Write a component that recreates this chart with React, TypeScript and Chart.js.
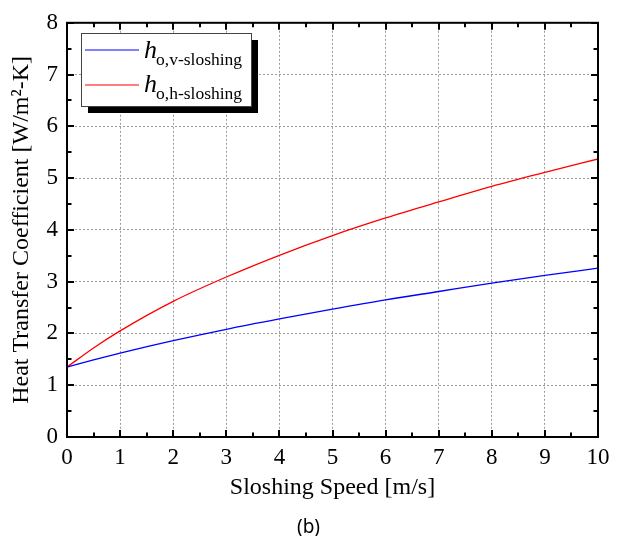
import React, { useEffect, useRef } from "react";
import { Chart, registerables } from "chart.js";

Chart.register(...registerables);

const speeds = [0, 0.5, 1, 2, 3, 4, 5, 6, 7, 8, 9, 10];
const hVertical = [1.35, 1.49, 1.62, 1.86, 2.08, 2.28, 2.47, 2.65, 2.81, 2.97, 3.12, 3.26];
const hHorizontal = [1.35, 1.72, 2.05, 2.62, 3.09, 3.51, 3.89, 4.23, 4.54, 4.84, 5.11, 5.37];
const legendSubs = ["o,v-sloshing", "o,h-sloshing"];
const seriesColors = ["#0000ff", "#ff0000"];
const xTitle = "Sloshing Speed [m/s]";
const yTitle = "Heat Transfer Coefficient [W/m\u00B2-K]";
const caption = "(b)";

const SERIF = "'Liberation Serif', 'Times New Roman', serif";

const framePlugin = {
  id: "frameTicks",
  afterDatasetsDraw(chart: any) {
    const { ctx, chartArea, scales } = chart;
    const { left, right, top, bottom } = chartArea;
    const xs = scales.x;
    const ys = scales.y;
    ctx.save();
    ctx.strokeStyle = "#000";
    ctx.lineWidth = 2;
    ctx.beginPath();
    for (let v = 0; v <= 10; v += 0.5) {
      const px = Math.round(xs.getPixelForValue(v));
      const len = Number.isInteger(v) ? 7 : 4.5;
      ctx.moveTo(px, bottom);
      ctx.lineTo(px, bottom - len);
      ctx.moveTo(px, top);
      ctx.lineTo(px, top + len);
    }
    for (let v = 0; v <= 8; v += 0.5) {
      const py = Math.round(ys.getPixelForValue(v));
      const len = Number.isInteger(v) ? 7 : 4.5;
      ctx.moveTo(left, py);
      ctx.lineTo(left + len, py);
      ctx.moveTo(right, py);
      ctx.lineTo(right - len, py);
    }
    ctx.stroke();
    ctx.strokeRect(left, top, right - left, bottom - top);

    // legend
    const bx = 81.5, by = 33.5, bw = 170, bh = 73;
    ctx.fillStyle = "#000";
    ctx.fillRect(bx + 6.5, by + 6.5, bw, bh);
    ctx.fillStyle = "#fff";
    ctx.fillRect(bx, by, bw, bh);
    ctx.lineWidth = 1;
    ctx.strokeStyle = "#444";
    ctx.strokeRect(bx, by, bw, bh);

    const rows = [
      { ly: 50, hb: 58, sb: 64.5 },
      { ly: 85, hb: 92, sb: 99 },
    ];
    rows.forEach((r, i) => {
      ctx.strokeStyle = seriesColors[i];
      ctx.lineWidth = 1.2;
      ctx.beginPath();
      ctx.moveTo(85, r.ly);
      ctx.lineTo(139, r.ly);
      ctx.stroke();
      ctx.fillStyle = "#000";
      ctx.textAlign = "left";
      ctx.textBaseline = "alphabetic";
      ctx.font = `italic 26px ${SERIF}`;
      ctx.fillText("h", 144, r.hb);
      ctx.font = `17.5px ${SERIF}`;
      ctx.fillText(legendSubs[i], 156, r.sb);
    });

    // caption
    ctx.fillStyle = "#000";
    ctx.font = "19px 'Noto Sans', sans-serif";
    ctx.textAlign = "center";
    ctx.textBaseline = "alphabetic";
    ctx.fillText(caption, 308.5, 533);
    ctx.restore();
  },
};

export default function App() {
  const ref = useRef<HTMLCanvasElement | null>(null);
  useEffect(() => {
    if (!ref.current) return;
    const chart = new Chart(ref.current, {
      type: "line",
      data: {
        datasets: [
          {
            label: "h o,v-sloshing",
            data: speeds.map((s, i) => ({ x: s, y: hVertical[i] })),
            borderColor: seriesColors[0],
            borderWidth: 1.3,
            pointRadius: 0,
            cubicInterpolationMode: "monotone",
          },
          {
            label: "h o,h-sloshing",
            data: speeds.map((s, i) => ({ x: s, y: hHorizontal[i] })),
            borderColor: seriesColors[1],
            borderWidth: 1.3,
            pointRadius: 0,
            cubicInterpolationMode: "monotone",
          },
        ],
      },
      options: {
        animation: false,
        responsive: true,
        maintainAspectRatio: false,
        layout: { padding: { left: 0, top: 18, right: 25, bottom: 0 } },
        plugins: { legend: { display: false }, tooltip: { enabled: false } },
        scales: {
          x: {
            type: "linear",
            min: 0,
            max: 10,
            ticks: {
              stepSize: 1,
              color: "#000",
              padding: 7,
              font: { family: SERIF, size: 23 },
            },
            grid: { color: "#9a9a9a", lineWidth: 1, drawTicks: false },
            border: { display: false, dash: [2, 2] },
            title: {
              display: true,
              text: xTitle,
              color: "#000",
              font: { family: SERIF, size: 24 },
              padding: { top: 0, bottom: 33.5 },
            },
            afterFit: (s: any) => {
              s.height = 99;
            },
          },
          y: {
            min: 0,
            max: 8,
            ticks: {
              stepSize: 1,
              color: "#000",
              padding: 9,
              font: { family: SERIF, size: 23 },
            },
            grid: { color: "#9a9a9a", lineWidth: 1, drawTicks: false },
            border: { display: false, dash: [2, 2] },
            title: {
              display: true,
              text: yTitle,
              color: "#000",
              font: { family: SERIF, size: 24 },
              padding: { top: 7.5, bottom: 0 },
            },
            afterFit: (s: any) => {
              s.width = 67;
            },
          },
        },
      },
      plugins: [framePlugin],
    } as any);
    return () => chart.destroy();
  }, []);
  return (
    <div style={{ position: "absolute", left: 0, top: 0, width: 623, height: 536, background: "#fff" }}>
      <canvas ref={ref} />
    </div>
  );
}
